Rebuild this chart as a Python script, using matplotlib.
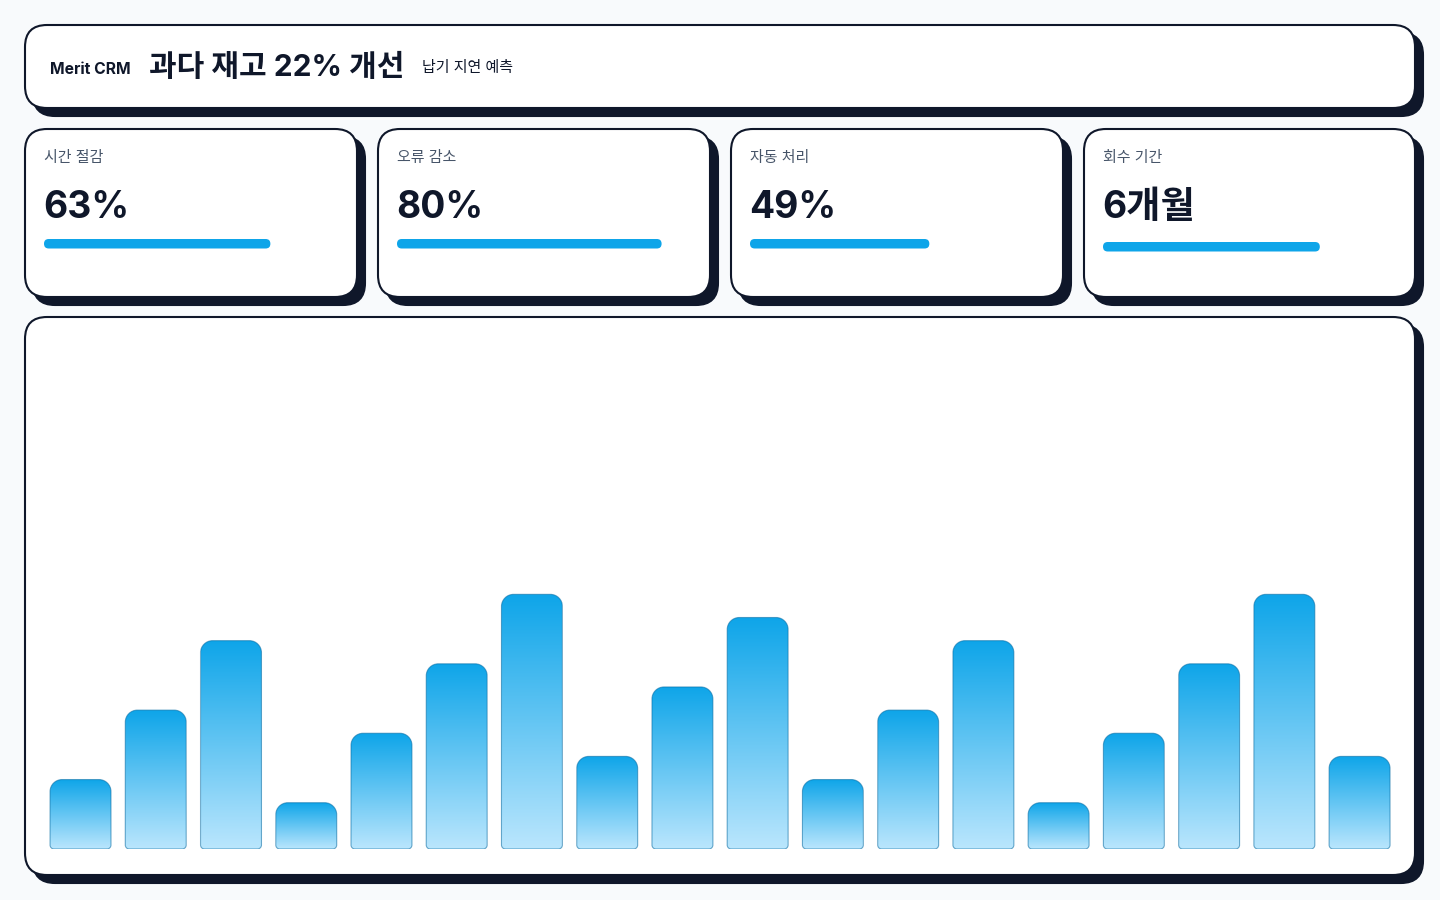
import matplotlib
matplotlib.use('Agg')
import matplotlib.pyplot as plt
import numpy as np
from matplotlib.patches import FancyBboxPatch, PathPatch
from matplotlib.path import Path
from matplotlib.colors import LinearSegmentedColormap

# ---------------- data ----------------
brand = "Merit CRM"
title = "과다 재고 22% 개선"
subtitle = "납기 지연 예측"
kpi_labels = ["시간 절감", "오류 감소", "자동 처리", "회수 기간"]
kpi_values = ["63%", "80%", "49%", "6개월"]
kpi_progress = [0.77, 0.90, 0.61, 0.74]
bar_values = [30, 60, 90, 20, 50, 80, 110, 40, 70, 100,
              30, 60, 90, 20, 50, 80, 110, 40]

# ---------------- style ----------------
DARK = '#0f172a'
LABEL = '#475569'
ACCENT = '#0ea5e9'
LIGHT = '#bae6fd'
BG = '#f8fafc'
FONTS = ['Inter', 'Noto Sans CJK KR', 'DejaVu Sans']

W, H = 1440, 900
fig = plt.figure(figsize=(W / 100, H / 100), dpi=100)
fig.patch.set_facecolor(BG)
bg = fig.add_axes([0, 0, 1, 1])
bg.set_xlim(0, W)
bg.set_ylim(H, 0)
bg.axis('off')


def card(x0, y0, x1, y1, r=22, off=8):
    sh = FancyBboxPatch((x0 + off, y0 + off), x1 - x0, y1 - y0,
                        boxstyle=f"round,pad=0,rounding_size={r}",
                        fc=DARK, ec=DARK, lw=1.5, zorder=1)
    bg.add_patch(sh)
    c = FancyBboxPatch((x0, y0), x1 - x0, y1 - y0,
                       boxstyle=f"round,pad=0,rounding_size={r}",
                       fc='white', ec=DARK, lw=1.5, zorder=2)
    bg.add_patch(c)


# header
card(25, 25, 1415, 108)
bg.text(50, 69, brand, fontsize=11.3, fontweight='bold', color=DARK,
        va='center', ha='left', family=FONTS, zorder=5)
bg.text(149, 68, title, fontsize=21.6, fontweight='bold', color=DARK,
        va='center', ha='left', family=FONTS, zorder=5)
bg.text(422, 68, subtitle, fontsize=10.8, color=DARK,
        va='center', ha='left', family=FONTS, zorder=5)

# KPI cards
kpi_x = [(25, 357), (378, 710), (731, 1063), (1084, 1415)]
for i, ((x0, x1), lab, val, p) in enumerate(zip(kpi_x, kpi_labels, kpi_values, kpi_progress)):
    card(x0, 129, x1, 297)
    bg.text(x0 + 19, 158, lab, fontsize=10.8, color=LABEL, va='center',
            ha='left', family=FONTS, zorder=5)
    bg.text(x0 + 18, 218, val, fontsize=26.8, fontweight='bold', color=DARK,
            va='baseline', ha='left', family=FONTS, zorder=5)
    inner = (x1 - x0) - 38
    yb = 239 if val.endswith('%') else 242
    bg.add_patch(FancyBboxPatch((x0 + 19, yb), p * inner, 9.5,
                                boxstyle="round,pad=0,rounding_size=4.75",
                                fc=ACCENT, ec='none', zorder=5))

# chart card
card(25, 317, 1415, 875)

# bar chart axes
ax_left, ax_w = 42.9, 1354.3
ax_bottom_px, ax_h = 849, 509
ymax = ax_h / 2.315
ax = fig.add_axes([ax_left / W, (H - ax_bottom_px) / H, ax_w / W, ax_h / H])
ax.set_xlim(-0.5, len(bar_values) - 0.5)
ax.set_ylim(0, ymax)
ax.axis('off')
ax.patch.set_alpha(0)

xs = np.arange(len(bar_values))
bars = ax.bar(xs, bar_values, width=0.81, alpha=0)

sx = ax_w / len(bar_values)   # px per x unit
sy = ax_h / ymax              # px per y unit
cmap = LinearSegmentedColormap.from_list('g', [LIGHT, ACCENT])
grad = np.linspace(0, 1, 256).reshape(-1, 1)
K = 0.5523


def rounded_path(x0, y0, w, h, rt, rb):
    atx, aty = rt / sx, rt / sy
    abx, aby = rb / sx, rb / sy
    v = [
        (x0 + abx, y0),
        (x0 + w - abx, y0),
        (x0 + w - abx + K * abx, y0), (x0 + w, y0 + aby - K * aby), (x0 + w, y0 + aby),
        (x0 + w, y0 + h - aty),
        (x0 + w, y0 + h - aty + K * aty), (x0 + w - atx + K * atx, y0 + h), (x0 + w - atx, y0 + h),
        (x0 + atx, y0 + h),
        (x0 + atx - K * atx, y0 + h), (x0, y0 + h - aty + K * aty), (x0, y0 + h - aty),
        (x0, y0 + aby),
        (x0, y0 + aby - K * aby), (x0 + abx - K * abx, y0), (x0 + abx, y0),
        (x0 + abx, y0),
    ]
    c = [Path.MOVETO, Path.LINETO,
         Path.CURVE4, Path.CURVE4, Path.CURVE4,
         Path.LINETO,
         Path.CURVE4, Path.CURVE4, Path.CURVE4,
         Path.LINETO,
         Path.CURVE4, Path.CURVE4, Path.CURVE4,
         Path.LINETO,
         Path.CURVE4, Path.CURVE4, Path.CURVE4,
         Path.CLOSEPOLY]
    return Path(v, c)


for rect in bars.patches:
    x0, y0 = rect.get_x(), rect.get_y()
    w, h = rect.get_width(), rect.get_height()
    path = rounded_path(x0, y0, w, h, 12, 4)
    clip = PathPatch(path, fc='none', ec='none', transform=ax.transData)
    ax.add_patch(clip)
    im = ax.imshow(grad, extent=(x0, x0 + w, y0, y0 + h), origin='lower',
                   cmap=cmap, aspect='auto', interpolation='bilinear', zorder=2)
    im.set_clip_path(clip)
    ax.add_patch(PathPatch(path, fc='none', ec=(3 / 255, 105 / 255, 161 / 255, 0.55),
                           lw=0.8, zorder=3))

ax.set_xlim(-0.5, len(bar_values) - 0.5)
ax.set_ylim(0, ymax)

fig.savefig('out.png', dpi=100, facecolor=BG)
